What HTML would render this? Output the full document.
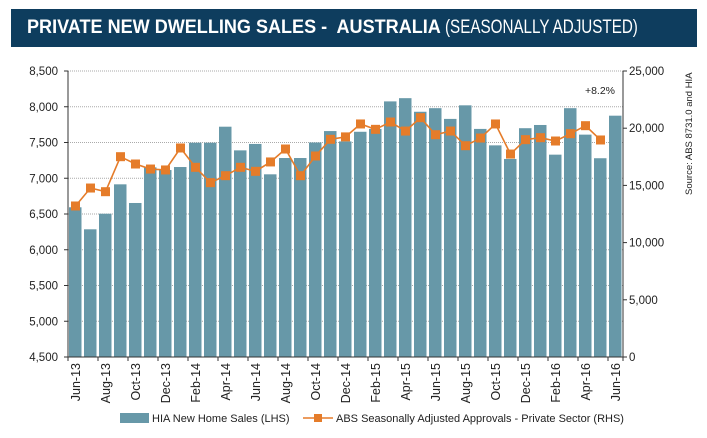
<!DOCTYPE html>
<html><head><meta charset="utf-8"><style>
body{margin:0;background:#fff;font-family:"Liberation Sans",sans-serif;}
#wrap{position:relative;width:707px;height:438px;overflow:hidden;}
#hdr{position:absolute;left:11px;top:9px;width:686px;height:38px;background:#0e3d5e;color:#fff;font-size:19px;line-height:38px;box-sizing:border-box;white-space:nowrap;}
#hdr span{position:absolute;top:0;transform-origin:0 50%;}
svg text{font-family:"Liberation Sans",sans-serif;}
</style></head><body>
<div id="wrap">
<div id="hdr"><span style="left:16px;font-weight:bold;transform:scaleX(0.95)">PRIVATE NEW DWELLING SALES -&nbsp; AUSTRALIA</span><span style="left:434px;font-weight:normal;transform:scaleX(0.8)">(SEASONALLY ADJUSTED)</span></div>
<svg id="chart" width="707" height="438" style="position:absolute;left:0;top:0"></svg>
</div>
<script>
const months=["Jun-13","Jul-13","Aug-13","Sep-13","Oct-13","Nov-13","Dec-13","Jan-14","Feb-14","Mar-14","Apr-14","May-14","Jun-14","Jul-14","Aug-14","Sep-14","Oct-14","Nov-14","Dec-14","Jan-15","Feb-15","Mar-15","Apr-15","May-15","Jun-15","Jul-15","Aug-15","Sep-15","Oct-15","Nov-15","Dec-15","Jan-16","Feb-16","Mar-16","Apr-16","May-16","Jun-16"];
const hiaSales=[6594,6286,6504,6915,6654,7153,7115,7157,7497,7497,7721,7390,7480,7055,7283,7283,7500,7660,7515,7650,7690,8075,8120,7930,7980,7830,8020,7690,7460,7270,7700,7745,7330,7980,7610,7280,7875];
const absApprovals=[13200,14770,14450,17510,16870,16430,16350,18270,16580,15240,15850,16580,16230,17050,18180,15850,17570,19030,19240,20370,19900,20540,19750,20920,19430,19750,18470,19140,20370,17740,19000,19170,18880,19520,20220,18970,null];
const leftTicks=[4500,5000,5500,6000,6500,7000,7500,8000,8500];
const rightTicks=[0,5000,10000,15000,20000,25000];

const svg=document.getElementById('chart');const NS='http://www.w3.org/2000/svg';
const X0=68,X1=623,Y0=357,Y1=71;
const slot=(X1-X0)/months.length;
const yL=v=>Y0-(v-4500)/4000*(Y0-Y1);
const yR=v=>Y0-v/25000*(Y0-Y1);
const xC=i=>X0+slot*(i+0.5);
function mk(t,a,p){const e=document.createElementNS(NS,t);for(const k in a)e.setAttribute(k,a[k]);(p||svg).appendChild(e);return e;}
leftTicks.forEach(v=>{if(v>4500){const g=mk('line',{x1:X0,x2:X1,y1:yL(v),y2:yL(v),stroke:'#aaa','stroke-dasharray':'1,1'});

}
const t=mk('text',{x:X0-10,y:yL(v)+4,'text-anchor':'end','font-size':11.5,fill:'#222'});t.textContent=v.toLocaleString('en-US');


mk('line',{x1:X0-4,x2:X0,y1:yL(v),y2:yL(v),stroke:'#333'});});
rightTicks.forEach(v=>{const t=mk('text',{x:X1+6,y:yR(v)+4,'font-size':11.5,fill:'#222'});t.textContent=v.toLocaleString('en-US');


mk('line',{x1:X1,x2:X1+4,y1:yR(v),y2:yR(v),stroke:'#333'});});
hiaSales.forEach((v,i)=>{const b=mk('rect',{x:X0+slot*i+1,y:yL(v),width:slot-2.5,height:Y0-yL(v),fill:'#6798a8'});

});
mk('line',{x1:X0,x2:X0,y1:Y1,y2:Y0,stroke:'#333'});mk('line',{x1:X1,x2:X1,y1:Y1,y2:Y0,stroke:'#333'});
mk('line',{x1:X0,x2:X1,y1:Y0,y2:Y0,stroke:'#333'});
months.forEach((m,i)=>{if(i%2==0){mk('line',{x1:X0+slot*i,x2:X0+slot*i,y1:Y0,y2:Y0+4,stroke:'#333'});
const t=mk('text',{transform:`translate(${xC(i)+4.5},${Y0+6}) rotate(-90)`,'text-anchor':'end','font-size':12.5,fill:'#222'});t.textContent=m;

}});
mk('line',{x1:X1,x2:X1,y1:Y0,y2:Y0+4,stroke:'#333'});
let d='';absApprovals.forEach((v,i)=>{if(v!=null)d+=(d?'L':'M')+xC(i)+','+yR(v);});
const ln=mk('path',{d:d,fill:'none',stroke:'#e57c2a','stroke-width':1.6});


absApprovals.forEach((v,i)=>{if(v!=null){const p=mk('rect',{x:xC(i)-4.5,y:yR(v)-4.5,width:9,height:9,fill:'#e57c2a'});

}});
const an=mk('text',{x:600,y:94,'text-anchor':'middle','font-size':10.5,fill:'#222'});an.textContent='+8.2%';


const src=mk('text',{transform:'translate(692,195) rotate(-90)','font-size':9.5,fill:'#222'});src.textContent='Source: ABS 8731.0 and HIA';


const lg=mk('g',{});
mk('rect',{x:120,y:413,width:29,height:10,fill:'#6798a8'},lg);
let t1=mk('text',{x:152,y:422,'font-size':11,fill:'#222'},lg);t1.textContent='HIA New Home Sales (LHS)';
mk('line',{x1:303,x2:333,y1:418,y2:418,stroke:'#e57c2a','stroke-width':1.6},lg);
mk('rect',{x:314,y:414,width:8,height:8,fill:'#e57c2a'},lg);
let t2=mk('text',{x:336,y:422,'font-size':11,fill:'#222'},lg);t2.textContent='ABS Seasonally Adjusted Approvals - Private Sector (RHS)';
</script>
</body></html>
